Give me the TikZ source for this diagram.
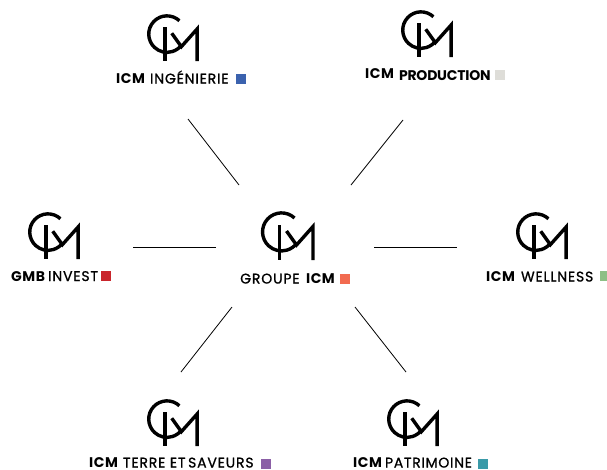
\documentclass[tikz,border=0pt]{standalone}
\usepackage{fontspec}
\setmainfont{Poppins}[LetterSpace=6, FakeBold=1, BoldFeatures={LetterSpace=3.8, FakeBold=0}]
\newfontfamily\prodfont{Poppins}[LetterSpace=-1.5]
\newfontfamily\patrifont{Poppins}[LetterSpace=5, FakeBold=1]
\usepackage{tikz}
\definecolor{ingblue}{HTML}{3B62AE}
\definecolor{prodgrey}{HTML}{DEDDD8}
\definecolor{gmbred}{HTML}{C9252C}
\definecolor{groupeorange}{HTML}{F26B50}
\definecolor{wellgreen}{HTML}{8DBF85}
\definecolor{terrepurple}{HTML}{8B5FA6}
\definecolor{patriteal}{HTML}{3A9AA8}
\tikzstyle{spoke} = [line width=0.8pt]
\tikzstyle{brand} = [inner sep=0pt, anchor=base west, text depth=0pt, font=\fontsize{14}{16}\selectfont]
\tikzstyle{tile} = [inner sep=0pt, minimum size=10pt, anchor=north west]
\tikzset{
    cimlogo/.pic={
        \draw [line width=3.4pt] (32,6) arc[start angle=47, end angle=324, radius=19, y radius=-19];
        \draw [line width=3.4pt] (17,13) -- (17,48);
        \draw [line width=3.4pt, line join=miter] (24,19) -- (34,33) -- (50.5,14.5) -- (50.5,48);
    }
}
\begin{document}
\begin{tikzpicture}[x=1pt, y=-1pt]
    \useasboundingbox (0,0) rectangle (607,469);

    \pic at (262.5,212) {cimlogo};
    \pic [scale=0.96] at (148.7,15) {cimlogo};
    \pic [scale=0.96] at (402.7,11) {cimlogo};
    \pic [scale=0.96] at (29.7,213) {cimlogo};
    \pic [scale=0.96] at (517.7,213) {cimlogo};
    \pic [scale=0.96] at (148.7,400) {cimlogo};
    \pic [scale=0.96] at (388.7,400) {cimlogo};

    \node (ing) [brand] at (116,83.5) {\textbf{ICM} INGÉNIERIE};
    \node (prod) [brand] at (365,80.5) {\raisebox{2pt}{\textbf{ICM}} {\prodfont\bfseries PRODUCTION}};
    \node (gmb) [brand] at (11,281) {\textbf{GMB}\hspace{-2pt} INVEST};
    \node (groupe) [brand] at (240,283.5) {GROUPE\hspace{2pt} \textbf{ICM}};
    \node (well) [brand] at (486,281.5) {\textbf{ICM}\hspace{1pt} WELLNESS};
    \node (terre) [brand] at (89,467.5) {\textbf{ICM} TERRE ET\hspace{-2pt} SAVEURS};
    \node (patri) [brand] at (353,467.5) {\textbf{ICM}\hspace{-2pt} {\patrifont PATRIMOINE}};

    \node (ingsq) [tile, fill=ingblue] at (236,74) {};
    \node (prodsq) [tile, fill=prodgrey] at (495,70) {};
    \node (gmbsq) [tile, fill=gmbred] at (101,271) {};
    \node (groupesq) [tile, fill=groupeorange] at (340,274) {};
    \node (wellsq) [tile, fill=wellgreen, minimum width=7pt] at (600,271) {};
    \node (terresq) [tile, fill=terrepurple] at (261,459) {};
    \node (patrisq) [tile, fill=patriteal] at (478,459) {};

    \coordinate (a1) at (239,185);
    \coordinate (a2) at (188,119);
    \coordinate (b1) at (351,185);
    \coordinate (b2) at (403,120);
    \coordinate (c1) at (216,247);
    \coordinate (c2) at (133,247);
    \coordinate (d1) at (374,247);
    \coordinate (d2) at (457,247);
    \coordinate (e1) at (232,307);
    \coordinate (e2) at (181,372);
    \coordinate (f1) at (355,307);
    \coordinate (f2) at (406,372);

    \draw [spoke] (a1) -- (a2);
    \draw [spoke] (b1) -- (b2);
    \draw [spoke] (c1) -- (c2);
    \draw [spoke] (d1) -- (d2);
    \draw [spoke] (e1) -- (e2);
    \draw [spoke] (f1) -- (f2);
\end{tikzpicture}
\end{document}
